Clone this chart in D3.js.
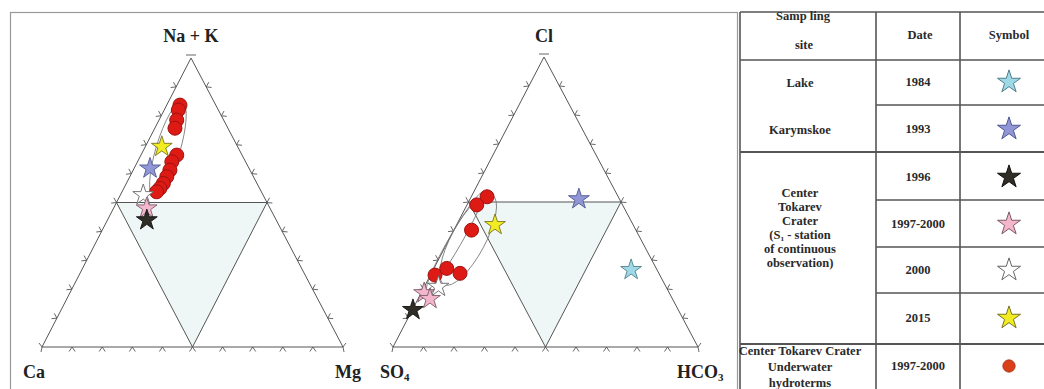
<!DOCTYPE html>
<html><head><meta charset="utf-8">
<script src="https://cdn.jsdelivr.net/npm/d3@7"></script>
<style>body{margin:0;background:#fff}svg{display:block}</style>
</head><body>
<svg id="c" width="1044" height="389"></svg>
<script>
// ---- data (percent, [apex component, right-corner component]) ----
const cationVertexLabels = ["Na + K", "Ca", "Mg"];
const anionVertexLabels = ["Cl", "SO", "HCO"];
const anionVertexSubs = ["", "4", "3"];
const tickSteps = [1,2,3,4,5,6,7,8,9];
// red circles: underwater hydroterms 1997-2000
const cationCircles = [[83.7,4.4],[82.0,4.7],[78.5,5.9],[75.7,6.7],[66.4,11.9],[64.1,11.4],[61.2,12.2],[58.9,12.3],[56.6,12.3],[54.9,12.0],[53.7,11.5]];
const anionCircles = [[51.8,5.2],[49.0,3.2],[40.3,5.8],[24.8,1.5],[27.1,4.2],[25.4,9.4]];
// stars: [date, apex %, right %]
const cationStars = [["2000",52.6,7.6],["1997-2000",48.0,11.0],["1996",43.9,13.1],["1993",61.8,5.3],["2015",69.3,5.5]];
const anionStars = [["1984",26.6,64.9],["1993",51.0,35.7],["2000",20.8,4.6],["1997-2000",18.6,1.0],["1997-2000",16.6,3.9],["1996",12.8,0.2],["2015",42.1,12.6]];
// envelopes: [from apex%, from right%, to apex%, to right%, width px]
const cationEnvelopes = [[84.8,4.6,51.7,11.5,24]];
const anionEnvelopes = [[53.4,3.1,19.7,1.4,13],[52.4,6.6,21.5,6.1,34]];
// legend table
const tableHeaders = [["Samp ling","site"],["Date"],["Symbol"]];
const legendDates = ["1984","1993","1996","1997-2000","2000","2015","1997-2000"];
const legendSymbols = ["1984","1993","1996","1997-2000","2000","2015","circle"];
const siteGroups = [["Lake","Karymskoe"],["Center","Tokarev","Crater","(S\u2081 - station","of continuous","observation)"],["Center Tokarev Crater","Underwater","hydroterms"]];

const starFill = {"1984":"#9fd8e6","1993":"#9096d6","1996":"#2f2d25","1997-2000":"#f3b6cc","2000":"#ffffff","2015":"#f2ec22"};
const starStroke = {"1984":"#4f7f8a","1993":"#4f5890","1996":"#111","1997-2000":"#7a5b66","2000":"#666","2015":"#7a7420"};

const svg = d3.select("#c");
svg.append("rect").attr("x",10.5).attr("y",12.5).attr("width",727).attr("height",400).attr("fill","none").attr("stroke","#999").attr("stroke-width",1.2);

function triangle(g, L, R, T, labels, subs, circles, stars, envelopes, apexLabelY){
  const xBase = d3.scaleLinear().domain([0,100]).range([L[0], R[0]]);
  const xShift = d3.scaleLinear().domain([0,100]).range([0, T[0]-L[0]]);
  const yS = d3.scaleLinear().domain([0,100]).range([L[1], T[1]]);
  const P = (a,b) => [xBase(b)+xShift(a), yS(a)];
  const mid = (p,q)=>[(p[0]+q[0])/2,(p[1]+q[1])/2];
  const mL = P(50,0), mR = P(50,50), mB = P(0,50);
  g.append("path").attr("d", d3.line()([mL,mR,mB])+"Z").attr("fill","#eef6f6").attr("stroke","none");
  const line = (a,b)=>g.append("line").attr("x1",a[0]).attr("y1",a[1]).attr("x2",b[0]).attr("y2",b[1]).attr("stroke","#555").attr("stroke-width",1);
  line(L,R); line(R,T); line(T,L);
  line(mL,mR); line(mL,mB); line(mR,mB);
  const cx = (L[0]+R[0]+T[0])/3, cy=(L[1]+R[1]+T[1])/3;
  const edges = [[L,R],[L,T],[R,T]];
  const tg = g.append("g").attr("stroke","#555").attr("stroke-width",0.9).attr("fill","none");
  edges.forEach(([p,q])=>{
    const dx=q[0]-p[0], dy=q[1]-p[1], len=Math.hypot(dx,dy);
    let nx=-dy/len, ny=dx/len;
    const m=[(p[0]+q[0])/2,(p[1]+q[1])/2];
    if((m[0]+nx-cx)**2+(m[1]+ny-cy)**2 < (m[0]-cx)**2+(m[1]-cy)**2){nx=-nx;ny=-ny;}
    const ux=dx/len, uy=dy/len;
    tickSteps.forEach(i=>{
      const x=p[0]+dx*i/10, y=p[1]+dy*i/10;
      const s=4.5;
      tg.append("path").attr("d",`M${x+nx*s-ux*3},${y+ny*s-uy*3}L${x},${y}L${x+nx*s+ux*3},${y+ny*s+uy*3}`);
    });
  });
  tg.append("line").attr("x1",T[0]-5).attr("x2",T[0]+5).attr("y1",T[1]-3).attr("y2",T[1]-3);
  [L,R].forEach(c=>{
    const d = c===L?-1:1;
    tg.append("path").attr("d",`M${c[0]+d*3},${c[1]-4}L${c[0]},${c[1]}L${c[0]+d*1},${c[1]+5}`);
  });
  envelopes.forEach(e=>{
    const a=P(e[0],e[1]), b=P(e[2],e[3]);
    const c=mid(a,b), rl=Math.hypot(b[0]-a[0],b[1]-a[1])/2;
    const ang=Math.atan2(b[1]-a[1],b[0]-a[0])*180/Math.PI;
    g.append("ellipse").attr("cx",c[0]).attr("cy",c[1]).attr("rx",rl).attr("ry",e[4]/2)
      .attr("transform",`rotate(${ang},${c[0]},${c[1]})`).attr("fill","none").attr("stroke","#777").attr("stroke-width",0.8);
  });
  g.append("g").selectAll("circle").data(circles).join("circle")
    .attr("cx",d=>P(d[0],d[1])[0]).attr("cy",d=>P(d[0],d[1])[1]).attr("r",7)
    .attr("fill","#dd1a14").attr("stroke","#a01212").attr("stroke-width",1);
  const star = d3.symbol().type(d3.symbolStar).size(135);
  g.append("g").selectAll("path").data(stars).join("path")
    .attr("d",star).attr("transform",d=>{const p=P(d[1],d[2]);return `translate(${p[0]},${p[1]})`;})
    .attr("fill",d=>starFill[d[0]]).attr("stroke",d=>starStroke[d[0]]).attr("stroke-width",0.9);
  const f = "'Liberation Serif','Times New Roman',serif";
  const lab = (txt,sub,x,y,anchor)=>{
    const t=g.append("text").attr("x",x).attr("y",y).attr("text-anchor",anchor).attr("font-family",f)
      .attr("font-size",18).attr("font-weight","bold").attr("fill","#222").text(txt);
    if(sub) t.append("tspan").attr("font-size",11).attr("dy",3).text(sub);
  };
  lab(labels[0],subs[0],T[0],apexLabelY,"middle");
  return {P, lab};
}

const left = triangle(svg.append("g"), [42,347], [343,347], [191,58], cationVertexLabels, ["","",""], cationCircles, cationStars, cationEnvelopes, 42);
left.lab(cationVertexLabels[1],"",23,378,"start");
left.lab(cationVertexLabels[2],"",335,378,"start");
const right = triangle(svg.append("g"), [393,347], [698,347], [544,57], anionVertexLabels, anionVertexSubs, anionCircles, anionStars, anionEnvelopes, 42);
right.lab(anionVertexLabels[1],anionVertexSubs[1],380,378,"start");
right.lab(anionVertexLabels[2],anionVertexSubs[2],677,378,"start");

// ---- legend table ----
const T = svg.append("g");
const colX = [740, 876, 960, 1060];
const rowY = [12, 60, 105, 152, 200, 247, 293, 344, 392];
const hl=(x1,x2,y,w)=>T.append("line").attr("x1",x1).attr("x2",x2).attr("y1",y).attr("y2",y).attr("stroke","#555").attr("stroke-width",w);
const vl=(x,y1,y2,w)=>T.append("line").attr("x1",x).attr("x2",x).attr("y1",y1).attr("y2",y2).attr("stroke","#555").attr("stroke-width",w);
hl(colX[0],colX[3],rowY[0],1.6);
hl(colX[0],colX[3],rowY[1],1.6);
hl(colX[1],colX[3],rowY[2],1.6);
hl(colX[0],colX[3],rowY[3],2.2);
hl(colX[1],colX[3],rowY[4],1.6);
hl(colX[1],colX[3],rowY[5],1.6);
hl(colX[1],colX[3],rowY[6],1.6);
hl(colX[0],colX[3],rowY[7],2.2);
vl(colX[0],rowY[0],rowY[8],1.6); vl(colX[1],rowY[0],rowY[8],1.6); vl(colX[2],rowY[0],rowY[8],1.6);

const tf="'Liberation Serif','Times New Roman',serif";
const txt=(s,x,y)=>T.append("text").attr("x",x).attr("y",y).attr("text-anchor","middle").attr("font-family",tf)
  .attr("font-size",12.5).attr("font-weight","bold").attr("fill","#2a2a2a").text(s);
txt(tableHeaders[0][0],803,20); txt(tableHeaders[0][1],804,49);
txt(tableHeaders[1][0],920,39); txt(tableHeaders[2][0],1009,39);
const c1=800;
txt(siteGroups[0][0],c1,87); txt(siteGroups[0][1],c1,134);
siteGroups[1].forEach((s,i)=>txt(s,c1,197+i*14));
siteGroups[2].forEach((s,i)=>txt(s,c1,355+i*16));
const rowC=[82,129,177,224,270,318,366];
legendDates.forEach((d,i)=>txt(d,918,rowC[i]+4));
const bigStar=d3.symbol().type(d3.symbolStar).size(165);
legendSymbols.forEach((s,i)=>{
  if(s==="circle"){
    T.append("path").attr("d",d3.symbol().type(d3.symbolCircle).size(120)()).attr("transform",`translate(1009,${rowC[i]})`)
      .attr("fill","#d9401a").attr("stroke","#a02a10").attr("stroke-width",0.8);
  } else {
    T.append("path").attr("d",bigStar()).attr("transform",`translate(1009,${rowC[i]})`)
      .attr("fill",starFill[s]).attr("stroke",starStroke[s]).attr("stroke-width",1);
  }
});
</script>
</body></html>
